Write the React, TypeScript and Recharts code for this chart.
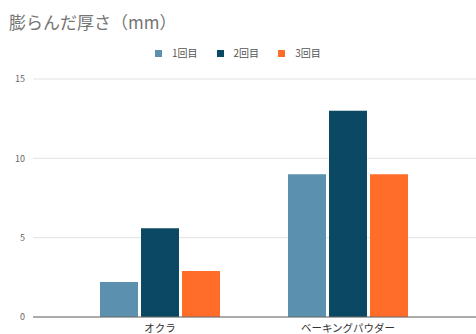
import React from "react";
import { BarChart, Bar, XAxis, YAxis, CartesianGrid, Legend } from "recharts";

const categories = ["オクラ", "ベーキングパウダー"];
const seriesNames = ["1回目", "2回目", "3回目"];
const run1 = [2.2, 9];
const run2 = [5.6, 13];
const run3 = [2.9, 9];
const yTicks = [0, 5, 10, 15];
const colors = ["#5b90ae", "#0b4863", "#ff6d29"];
const title = "膨らんだ厚さ（mm）";

const data = categories.map((name, i) => ({
  name,
  r1: run1[i],
  r2: run2[i],
  r3: run3[i],
}));

const FONT = "'Noto Sans CJK JP', 'Noto Sans', sans-serif";

const LegendContent = (props: any) => {
  const payload = props.payload || [];
  return (
    <div style={{ display: "flex", alignItems: "center", fontFamily: FONT, fontSize: 10, color: "#555" }}>
      {payload.map((p: any, i: number) => (
        <div key={i} style={{ display: "flex", alignItems: "center", marginRight: 19 }}>
          <div style={{ width: 7, height: 7, background: p.color, marginRight: 10 }} />
          <span style={{ lineHeight: "10px" }}>{p.value}</span>
        </div>
      ))}
    </div>
  );
};

export default function App() {
  return (
    <div style={{ position: "absolute", left: 0, top: 0, width: 476, height: 334, background: "#fff" }}>
      <div
        style={{
          position: "absolute",
          left: 9,
          top: 12,
          fontFamily: FONT,
          fontSize: 17,
          lineHeight: "20px",
          color: "#757575",
          whiteSpace: "nowrap",
        }}
      >
        {title}
      </div>
      <BarChart
        width={476}
        height={334}
        data={data}
        margin={{ top: 79, right: 0, bottom: 0, left: 0 }}
        barSize={38}
        barGap={3}
      >
        <CartesianGrid vertical={false} stroke="#e2e2e2" />
        <XAxis
          dataKey="name"
          height={17}
          padding={{ left: 33, right: 34 }}
          tickLine={false}
          tickSize={0}
          tickMargin={8}
          axisLine={{ stroke: "#666" }}
          tick={{ fontSize: 10.5, fill: "#333", fontFamily: FONT }}
          interval={0}
        />
        <YAxis
          width={33}
          domain={[0, 15]}
          ticks={yTicks}
          axisLine={false}
          tickLine={false}
          tickSize={0}
          tickMargin={8}
          tick={{ fontSize: 9, fill: "#666", fontFamily: FONT }}
        />
        <Legend
          verticalAlign="middle"
          align="center"
          content={<LegendContent />}
          wrapperStyle={{ position: "absolute", top: 48, left: 155, width: 300 }}
        />
        <Bar dataKey="r1" name={seriesNames[0]} fill={colors[0]} isAnimationActive={false} />
        <Bar dataKey="r2" name={seriesNames[1]} fill={colors[1]} isAnimationActive={false} />
        <Bar dataKey="r3" name={seriesNames[2]} fill={colors[2]} isAnimationActive={false} />
      </BarChart>
    </div>
  );
}
